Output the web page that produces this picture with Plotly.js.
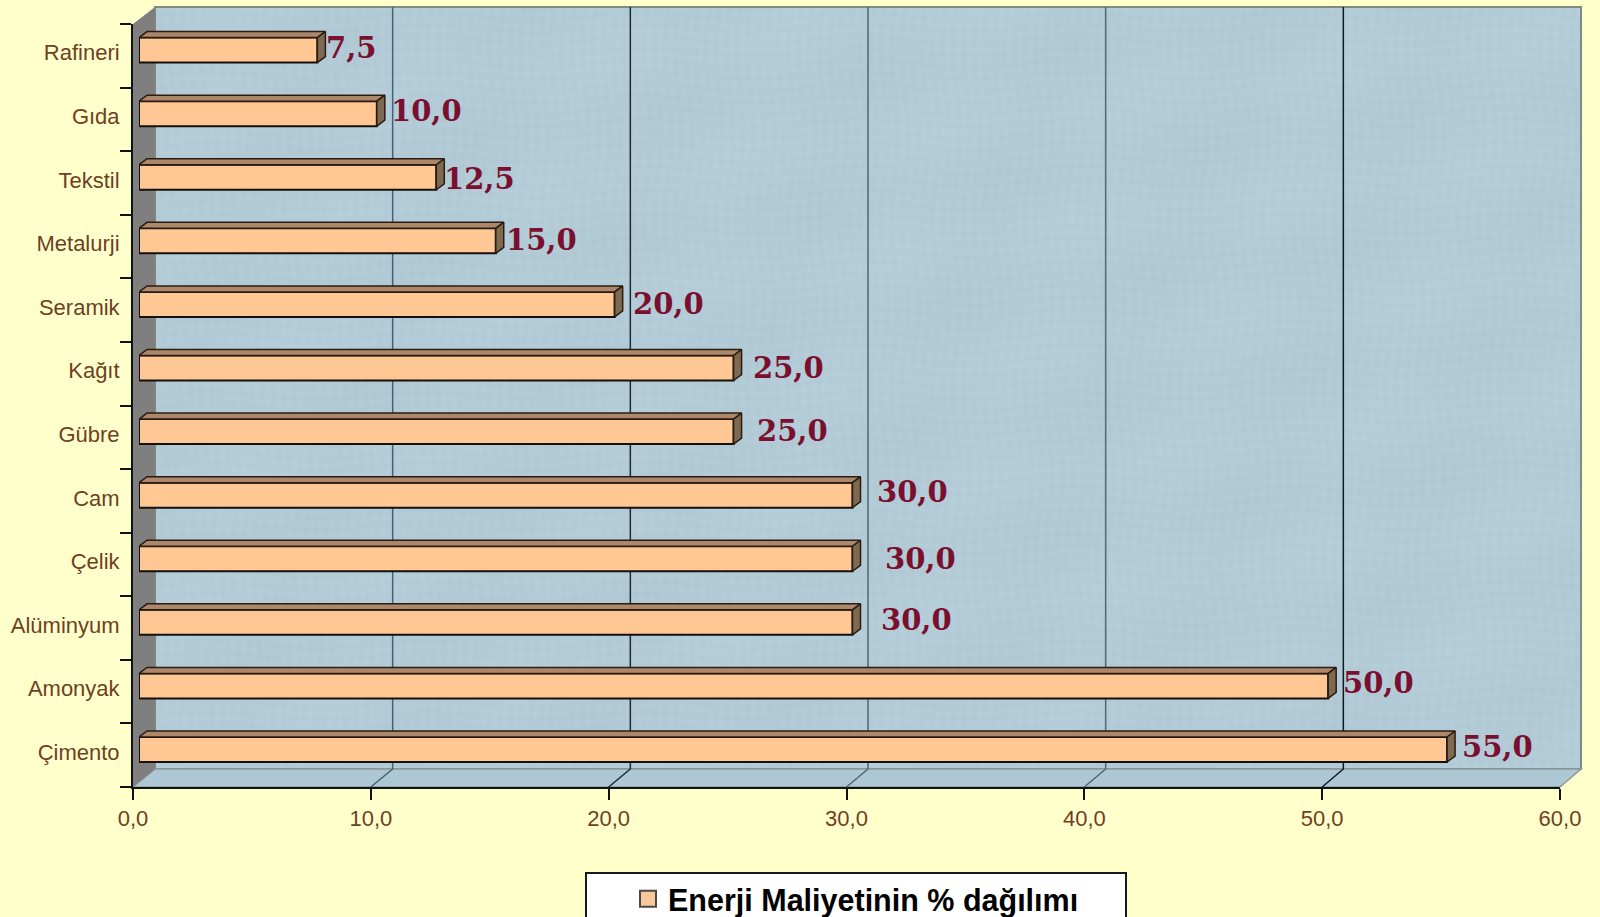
<!DOCTYPE html>
<html>
<head>
<meta charset="utf-8">
<script src="https://cdn.plot.ly/plotly-3.0.1.min.js"></script>
<style>html,body{margin:0;padding:0;background:#ffffcc;overflow:hidden}</style>
</head>
<body>
<div id="chart" style="width:1600px;height:917px"></div>
<script>
// Sectors, listed from the bottom of the chart upwards
const categories = ['Çimento','Amonyak','Alüminyum','Çelik','Cam','Gübre','Kağıt','Seramik','Metalurji','Tekstil','Gıda','Rafineri'];
const shares = [55, 50, 30, 30, 30, 25, 25, 20, 15, 12.5, 10, 7.5];
const xTicks = [0, 10, 20, 30, 40, 50, 60];
const xTickText = ['0,0','10,0','20,0','30,0','40,0','50,0','60,0'];
const seriesName = 'Enerji Maliyetinin % dağılımı';

// Hand-placed offsets of the value labels, in pixels from the bar end / bar centre
const labelGap = [13, 13, 26, 30, 22, 21, 17, 16, 8, 6, 12, 7];
const labelLift = [3, 3, 2, 0, 3, 1, 0, 0, 1, -2, 3, 2];
// The wall grid lines do not all carry the same ink
const gridInk = {10:'#3f6378', 20:'#1c2b3a', 30:'#4d6675', 40:'#4d6675', 50:'#0f1a26'};

const W = 1600, H = 917;
const px = x => x / W;
const py = y => 1 - y / H;

// Pixel frame of the pseudo-3D box
const front = {l:133, r:1560, t:24, b:787};
const wall = {l:155, r:1581, t:7, b:769};
const barPlane = {l:139, r:1566, t:18.3, b:781.3};
const unitPx = (front.r - front.l) / 60;
const wallUnitPx = (wall.r - wall.l) / 60;
const bandPx = (front.b - front.t) / categories.length;
const barThickness = 25 / bandPx;
const depthX = 8 / unitPx, depthY = 6 / bandPx;

// Faint woven grain for the back wall
function wallGrain() {
  const w = wall.r - wall.l, h = wall.b - wall.t;
  const c = document.createElement('canvas');
  c.width = w; c.height = h;
  const g = c.getContext('2d');
  const img = g.createImageData(w, h);
  for (let y = 0; y < h; y++) {
    for (let x = 0; x < w; x++) {
      const d = 1.1 * Math.sin(x * 0.61 + 2 * Math.sin(y * 0.037))
              + 1.1 * Math.sin(y * 0.53 + 2 * Math.sin(x * 0.029))
              + 2.0 * Math.sin(x * 0.021 + y * 0.033) * Math.sin(x * 0.013 - y * 0.019);
      const k = (y * w + x) * 4;
      img.data[k] = 178 + d; img.data[k + 1] = 203 + d; img.data[k + 2] = 215 + d; img.data[k + 3] = 255;
    }
  }
  g.putImageData(img, 0, 0);
  return c.toDataURL('image/png');
}

// Top and end faces of each bar, as polygons in axis units
const topX = [], topY = [], endX = [], endY = [];
shares.forEach((v, i) => {
  const lo = i - barThickness / 2, hi = i + barThickness / 2;
  topX.push(0, depthX, v + depthX, v, 0, null);
  topY.push(hi, hi + depthY, hi + depthY, hi, hi, null);
  endX.push(v, v + depthX, v + depthX, v, v, null);
  endY.push(lo, lo + depthY, hi + depthY, hi, lo, null);
});

const traces = [
  {type:'scatter', x:shares, y:categories, xaxis:'x', yaxis:'y', mode:'none', showlegend:false, hoverinfo:'skip'},
  {type:'scatter', x:topX, y:topY, xaxis:'x2', yaxis:'y2', mode:'lines', fill:'toself', fillcolor:'#ac8769',
   line:{color:'#2a1c12', width:1.5}, showlegend:false, hoverinfo:'skip', cliponaxis:false},
  {type:'scatter', x:endX, y:endY, xaxis:'x2', yaxis:'y2', mode:'lines', fill:'toself', fillcolor:'#7d6a50',
   line:{color:'#2a1c12', width:1.5}, showlegend:false, hoverinfo:'skip', cliponaxis:false},
  {type:'bar', orientation:'h', x:shares, y:categories.map((c, i) => i), xaxis:'x2', yaxis:'y2', showlegend:false,
   width:barThickness, marker:{color:'#ffc794', line:{color:'#14100c', width:2}}, cliponaxis:false},
  // Carries the legend entry, whose key is larger than a bar's default key
  {type:'scatter', name:seriesName, x:[null], y:[null], xaxis:'x2', yaxis:'y2', mode:'markers',
   marker:{symbol:'square', size:16, color:'#f8c89a', line:{color:'#4a4a4a', width:2}}, hoverinfo:'skip'}
];

// Back wall, side wall and floor of the box
const poly = pts => 'M' + pts.map(p => px(p[0]) + ',' + py(p[1])).join('L') + 'Z';
const shapes = [
  {type:'path', xref:'paper', yref:'paper', layer:'below', fillcolor:'rgba(0,0,0,0)', line:{color:'#7f8b7c', width:2},
   path:poly([[wall.l,wall.t],[wall.r,wall.t],[wall.r,wall.b],[wall.l,wall.b]])},
  {type:'path', xref:'paper', yref:'paper', layer:'below', fillcolor:'#aec7d4', line:{color:'#8b9a9f', width:1.5},
   path:poly([[front.l,front.b],[wall.l,wall.b],[wall.r,wall.b],[front.r,front.b]])},
  {type:'path', xref:'paper', yref:'paper', layer:'below', fillcolor:'#7f7f80', line:{color:'#7f7f80', width:0},
   path:poly([[front.l,front.t],[wall.l,wall.t],[wall.l,wall.b],[front.l,front.b]])},
  {type:'rect', xref:'paper', yref:'paper', layer:'below', fillcolor:'#ffffff', line:{color:'#1a1a1a', width:2},
   x0:px(586), x1:px(1126), y0:py(873), y1:py(930)}
];
// Grid lines climb the wall and step down the floor to their ticks
xTicks.slice(1, -1).forEach(v => {
  const wx = wall.l + v * wallUnitPx, fx = front.l + v * unitPx;
  shapes.push({type:'path', xref:'paper', yref:'paper', layer:'below', line:{color:gridInk[v], width:1.5},
    path:'M' + px(wx) + ',' + py(wall.t) + 'L' + px(wx) + ',' + py(wall.b) + 'L' + px(fx) + ',' + py(front.b)});
});

const annotations = shares.map((v, i) => ({
  xref:'x2', yref:'y2', x:v, y:i, xanchor:'left', yanchor:'middle', showarrow:false,
  xshift:labelGap[i], yshift:labelLift[i],
  text:v.toFixed(1).replace('.', ','),
  font:{family:'"DejaVu Serif", serif', size:29, color:'#7b0f2e', weight:'bold'}
}));

const tickFont = {family:'"Liberation Sans", Arial, sans-serif', size:22, color:'#6f3f24'};

const layout = {
  width:W, height:H,
  margin:{l:0, r:0, t:0, b:0, pad:0, autoexpand:false},
  paper_bgcolor:'#ffffcc', plot_bgcolor:'rgba(0,0,0,0)',
  showlegend:true,
  legend:{x:px(856), xanchor:'center', y:py(899), yanchor:'middle', bgcolor:'rgba(0,0,0,0)', borderwidth:0,
          font:{family:'"Liberation Sans", Arial, sans-serif', size:30.5, color:'#000000', weight:'bold'}},
  xaxis:{domain:[px(front.l), px(front.r)], range:[0, 60], anchor:'y', tickmode:'array', tickvals:xTicks, ticktext:xTickText,
         ticks:'outside', ticklen:11, tickwidth:2, tickcolor:'#111', showgrid:false, zeroline:false,
         showline:true, linecolor:'#111', linewidth:2, tickfont:tickFont},
  yaxis:{domain:[py(front.b), py(front.t)], anchor:'x', type:'category', categoryorder:'array', categoryarray:categories,
         range:[-0.5, categories.length - 0.5], tickson:'boundaries', ticks:'outside', ticklen:11, tickwidth:2, tickcolor:'#111',
         showgrid:false, zeroline:false, showline:true, linecolor:'#111', linewidth:2, tickfont:tickFont,
         ticklabelshift:-3, ticklabelstandoff:7},
  xaxis2:{domain:[px(barPlane.l), px(barPlane.r)], range:[0, 60], anchor:'y2', visible:false},
  yaxis2:{domain:[py(barPlane.b), py(barPlane.t)], range:[-0.5, categories.length - 0.5], anchor:'x2', visible:false},
  images:[{source:wallGrain(), xref:'paper', yref:'paper', x:px(wall.l), y:py(wall.t), sizex:px(wall.r - wall.l),
           sizey:(wall.b - wall.t) / H, xanchor:'left', yanchor:'top', sizing:'stretch', layer:'below'}],
  shapes, annotations
};

Plotly.newPlot('chart', traces, layout, {displayModeBar:false, staticPlot:true});
</script>
</body>
</html>
